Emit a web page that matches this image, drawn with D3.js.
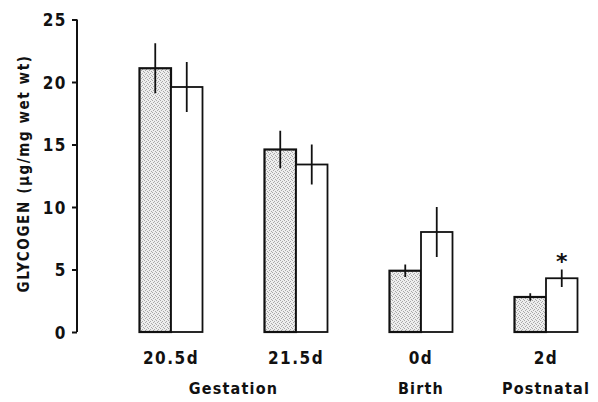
<!DOCTYPE html>
<html><head><meta charset="utf-8">
<script src="https://cdn.jsdelivr.net/npm/d3@7"></script>
<style>
body{margin:0;background:#fff;}
text{font-family:"DejaVu Sans Condensed","Liberation Sans Narrow",sans-serif;font-weight:bold;fill:#111;}
</style></head>
<body>
<svg id="chart" width="598" height="402"></svg>
<script>
const categories = ["20.5d","21.5d","0d","2d"];
const series = ["control","treated"];
const controlValues = [21.1, 14.6, 4.9, 2.8];
const controlErrors = [2.0, 1.5, 0.5, 0.3];
const treatedValues = [19.6, 13.4, 8.0, 4.3];
const treatedErrors = [2.0, 1.6, 2.0, 0.7];
const yTicks = [0,5,10,15,20,25];
const periods = [
  {label:"Gestation", cats:["20.5d","21.5d"]},
  {label:"Birth", cats:["0d"]},
  {label:"Postnatal", cats:["2d"]}
];
const significant = [{cat:"2d", series:"treated"}];

const svg = d3.select("#chart");
const defs = svg.append("defs");
const pat = defs.append("pattern").attr("id","stipple").attr("width",4).attr("height",4).attr("patternUnits","userSpaceOnUse");
pat.append("rect").attr("width",4).attr("height",4).attr("fill","#eeeeee");
[[0,0],[2,1],[1,2],[3,3]].forEach(([px,py])=>pat.append("rect").attr("x",px).attr("y",py).attr("width",1).attr("height",1).attr("fill","#a8a8a8"));

const y = d3.scaleLinear().domain([0,25]).range([332,19.5]);
const x0 = d3.scalePoint().domain(categories).range([171,546]);
const x1 = d3.scaleBand().domain(series).range([-31.5,31.5]);

// axis
const yAxis = d3.axisLeft(y).tickValues(yTicks).tickSize(5).tickPadding(5).tickFormat(d3.format("d"));
const ax = svg.append("g").attr("transform","translate(77,0)").call(yAxis);
ax.select(".domain").attr("stroke","#111").attr("stroke-width",2).attr("d",`M0,${y(25)}V${y(0)}`);
ax.selectAll(".tick line").attr("stroke","#111").attr("stroke-width",2);
ax.selectAll(".tick text").attr("font-size",17).attr("letter-spacing",1.5).attr("dy","0.36em")
  .style("font-family",'"DejaVu Sans Condensed",sans-serif').style("font-weight","bold").attr("fill","#111");

// y title
svg.append("text").attr("transform",`translate(29,${(57+290)/2}) rotate(-90)`).attr("text-anchor","middle")
  .attr("font-size",15).attr("letter-spacing",1.6).text("GLYCOGEN (\u00b5g/mg wet wt)");

const rows = [];
categories.forEach((c,i)=>{
  rows.push({cat:c, s:"control", v:controlValues[i], e:controlErrors[i]});
  rows.push({cat:c, s:"treated", v:treatedValues[i], e:treatedErrors[i]});
});

const g = svg.append("g");
g.selectAll("rect.bar").data(rows).join("rect").attr("class","bar")
  .attr("x",d=>x0(d.cat)+x1(d.s)).attr("width",x1.bandwidth())
  .attr("y",d=>y(d.v)).attr("height",d=>y(0)-y(d.v))
  .attr("fill",d=>d.s==="control"?"url(#stipple)":"#fff")
  .attr("stroke","#111").attr("stroke-width",d=>d.s==="control"?2.2:1.8);

g.selectAll("line.err").data(rows).join("line").attr("class","err")
  .attr("x1",d=>x0(d.cat)+x1(d.s)+x1.bandwidth()/2).attr("x2",d=>x0(d.cat)+x1(d.s)+x1.bandwidth()/2)
  .attr("y1",d=>y(d.v+d.e)).attr("y2",d=>y(d.v-d.e))
  .attr("stroke","#111").attr("stroke-width",1.8);

// significance
significant.forEach(sg=>{
  const r = rows.find(d=>d.cat===sg.cat && d.s===sg.series);
  svg.append("text").attr("x",x0(r.cat)+x1(r.s)+x1.bandwidth()/2).attr("y",y(r.v+r.e)-1)
    .attr("text-anchor","middle").attr("font-size",22).style("font-family","DejaVu Sans").text("*");
});

// category labels
svg.selectAll("text.cat").data(categories).join("text").attr("class","cat")
  .attr("x",d=>x0(d)).attr("y",364).attr("text-anchor","middle")
  .attr("font-size",17).attr("letter-spacing",1.5).text(d=>d);

// period labels
svg.selectAll("text.period").data(periods).join("text").attr("class","period")
  .attr("x",d=>d3.mean(d.cats,c=>x0(c))).attr("y",394).attr("text-anchor","middle")
  .attr("font-size",16).attr("letter-spacing",1.2).text(d=>d.label);
</script>
</body></html>
